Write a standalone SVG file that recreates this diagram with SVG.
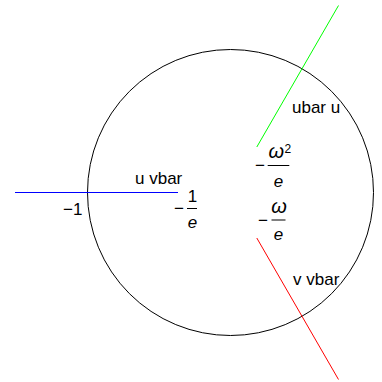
<svg xmlns="http://www.w3.org/2000/svg" width="382" height="382" viewBox="0 0 382 382">
<style>
text{font-family:"Liberation Sans",Arial,sans-serif;font-size:17px;fill:#000}
.i{font-style:italic}
.m{text-anchor:middle}
.w{font-size:20px}
.bar{stroke:#000;stroke-width:1}
</style>
<rect width="382" height="382" fill="#fff"/>
<g id="circle"><circle cx="230.5" cy="192.5" r="143" fill="none" stroke="#000" stroke-width="1"/></g>
<g id="connectors" stroke-width="1" fill="none">
<line x1="178" y1="192.5" x2="15" y2="192.5" stroke="#0000ff"/>
<line x1="256.8" y1="147" x2="338.5" y2="5.5" stroke="#00ff00"/>
<line x1="256.8" y1="238" x2="338.5" y2="379.5" stroke="#ff0000"/>
</g>
<g id="label-uvbar"><text x="135" y="184">u vbar</text></g>
<g id="label-ubaru"><text x="292" y="113">ubar u</text></g>
<g id="label-vvbar"><text x="293" y="285">v vbar</text></g>
<g id="label-m1"><text x="63" y="215">−1</text></g>
<g id="frac-1e">
<text class="m" x="179" y="213.5">−</text>
<text class="m" x="192.5" y="202">1</text>
<line class="bar" x1="187" y1="208.5" x2="197" y2="208.5"/>
<text class="m i" x="192.5" y="228">e</text>
</g>
<g id="frac-w2e">
<text class="m" x="260" y="171">−</text>
<text class="i w" x="268.5" y="158">ω</text>
<text x="284.5" y="153" style="font-size:12px">2</text>
<line class="bar" x1="267.7" y1="165.5" x2="289.3" y2="165.5"/>
<text class="m i" x="278.5" y="187">e</text>
</g>
<g id="frac-we">
<text class="m" x="263" y="225.5">−</text>
<text class="m i w" x="279" y="212.5">ω</text>
<line class="bar" x1="271.5" y1="220" x2="285.5" y2="220"/>
<text class="m i" x="278.5" y="240">e</text>
</g>
</svg>
